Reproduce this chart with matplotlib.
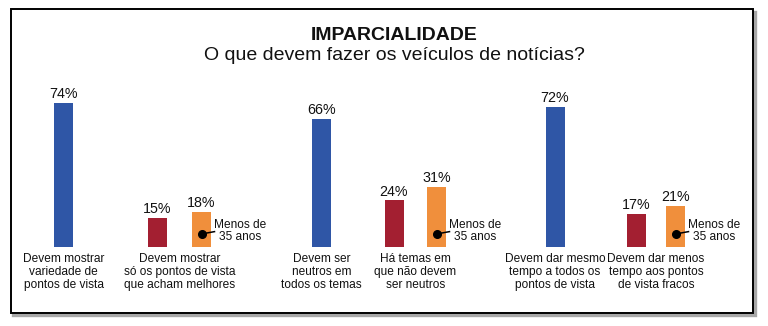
import matplotlib
matplotlib.use("Agg")
from matplotlib import pyplot as plt
from matplotlib.patches import Rectangle

plt.rcParams['font.family'] = ['Liberation Sans', 'DejaVu Sans']

# data
categories_all = ["Devem mostrar\nvariedade de\npontos de vista",
                  "Devem ser\nneutros em\ntodos os temas",
                  "Devem dar mesmo\ntempo a todos os\npontos de vista"]
categories_pair = ["Devem mostrar\nsó os pontos de vista\nque acham melhores",
                   "Há temas em\nque não devem\nser neutros",
                   "Devem dar menos\ntempo aos pontos\nde vista fracos"]
all_values = [74, 66, 72]
pair_values = [15, 24, 17]
young_values = [18, 31, 21]
young_label = "Menos de\n35 anos"
title = "IMPARCIALIDADE"
subtitle = "O que devem fazer os veículos de notícias?"

# layout (pixels)
W, H = 768, 326
x_all = [63.5, 321.5, 555]
x_pair = [157.5, 394, 636.5]
x_young = [201.5, 436.5, 675.5]
BAR_W = 19
BASE = 247          # baseline in px from top
PX_PER_PCT = 1.946

BLUE = '#2f56a6'
RED = '#a31f31'
ORANGE = '#f08f3c'

fig = plt.figure(figsize=(W / 100, H / 100), dpi=100)

# background / frame layer in pixel coords
bg = fig.add_axes([0, 0, 1, 1])
bg.set_xlim(0, W)
bg.set_ylim(H, 0)
bg.axis('off')
bg.add_patch(Rectangle((12.5, 11.5), 742.5, 303.5, fill=False, edgecolor='#a8a8a8', linewidth=2.4))
bg.add_patch(Rectangle((10.5, 9), 742, 304, facecolor='white', edgecolor='black', linewidth=1.4))
bg.text(394, 40, title, ha='center', va='baseline', fontsize=14, fontweight='bold', color='#111111')
bg.text(394, 60, subtitle, ha='center', va='baseline', fontsize=14, color='#111111')

# bar layer, y in percent
ax = fig.add_axes([0, 0, 1, 1])
ax.set_xlim(0, W)
ax.set_ylim(-(H - BASE) / PX_PER_PCT, BASE / PX_PER_PCT)
ax.axis('off')
ax.patch.set_alpha(0)

ax.bar(x_all, all_values, width=BAR_W, color=BLUE)
ax.bar(x_pair, pair_values, width=BAR_W, color=RED)
ax.bar(x_young, young_values, width=BAR_W, color=ORANGE)

for xs, vals in [(x_all, all_values), (x_pair, pair_values), (x_young, young_values)]:
    for x, v in zip(xs, vals):
        ax.text(x, v + 2.4, "{}%".format(v), ha='center', va='baseline', fontsize=10.3, color='#111111')

lab_y = -3.0
for x, lab in zip(x_all, categories_all):
    ax.text(x, lab_y, lab, ha='center', va='top', fontsize=8.6, linespacing=1.13, color='#111111')
for xp, xy, lab in zip(x_pair, x_young, categories_pair):
    ax.text((xp + xy) / 2, lab_y, lab, ha='center', va='top', fontsize=8.6, linespacing=1.13, color='#111111')

# "Menos de 35 anos" callouts
dot_y = 6.7
for x in x_young:
    ax.plot([x, x + 13], [dot_y, dot_y + 1.2], color='black', linewidth=1.1)
    ax.plot([x], [dot_y], marker='o', markersize=5.5, color='black')
    ax.text(x + 39, dot_y + 1.3, young_label, ha='center', va='center', fontsize=8.6,
            linespacing=1.0, color='#111111')

plt.savefig('out.png', dpi=100)
plt.close()
